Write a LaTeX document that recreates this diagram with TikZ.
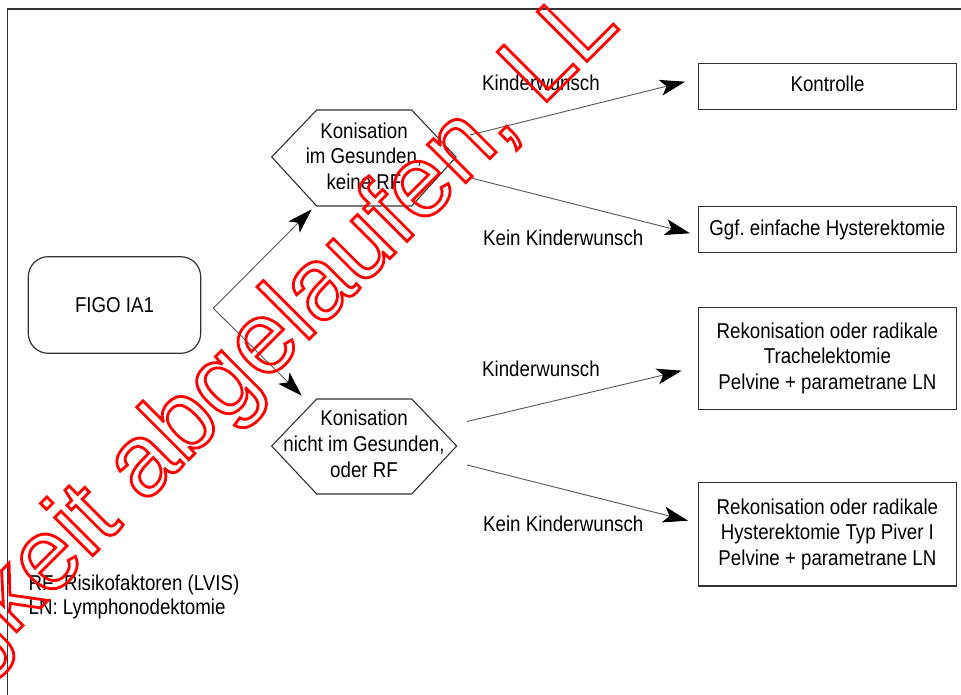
\documentclass[tikz,border=0pt]{standalone}
\usepackage{fontspec}
\setmainfont{Liberation Sans}[FakeStretch=0.87]
\newfontfamily\wmfont{Liberation Sans}
\usetikzlibrary{arrows.meta}
\frenchspacing
\newcommand{\txtsize}{\fontsize{21.5}{25.8}\selectfont}
\newcommand{\outlinetext}[1]{\special{pdf:literal direct 1 Tr 2.8 w}#1\special{pdf:literal direct 0 Tr}}
\definecolor{edgecol}{HTML}{333333}
\definecolor{arrcol}{HTML}{555555}
\tikzset{
  frameline/.style={draw=edgecol, line width=1.3pt},
  rbox/.style={draw=edgecol, line width=1.3pt, minimum width=258.4pt, inner sep=0pt, align=center, font=\txtsize},
  startbox/.style={draw=edgecol, line width=1.2pt, rounded corners=20pt, minimum width=172.4pt, minimum height=96.6pt, inner sep=0pt, font=\txtsize},
  hexline/.style={draw=edgecol, line width=1.1pt},
  hextext/.style={inner sep=0pt, align=center, font=\txtsize},
  lbl/.style={inner sep=0pt, font=\txtsize, anchor=base west},
  arr/.style={draw=arrcol, line width=0.9pt, -{Stealth[length=25pt,width=16pt,inset=6pt,color=black]}},
  wmark/.style={inner sep=0pt, text=red, anchor=base east, rotate=45, font=\wmfont\fontsize{102}{102}\selectfont}
}
\begin{document}
\begin{tikzpicture}[x=1pt,y=-1pt]
\clip (0,0) rectangle (961,695);
\fill[white] (0,0) rectangle (961,695);
\draw[frameline] (7.3,9) rectangle (990,720);

% start node
\node[startbox] (figo) at (114.5,305) {FIGO IA1};

% decision hexagons
\node[hextext] (h1) at (364,156.3) {Konisation\\im Gesunden,\\keine RF};
\draw[hexline] (271.7,157) -- (316.7,110) -- (411.7,110) -- (456,157) -- (411.7,206) -- (316.7,206) -- cycle;
\node[hextext] (h2) at (364,443.9) {Konisation\\nicht im Gesunden,\\oder RF};
\draw[hexline] (271.7,446) -- (316.7,399) -- (411.7,399) -- (456.7,446) -- (411.7,494) -- (316.7,494) -- cycle;

% result boxes
\node[rbox, minimum height=46pt, text depth=4.4pt] (kon) at (827.5,86.3) {Kontrolle};
\node[rbox, minimum height=46pt] (hyst) at (827.4,229.7) {Ggf. einfache Hysterektomie};
\node[rbox, minimum height=102pt] (rek1) at (827.4,358.3) {Rekonisation oder radikale\\Trachelektomie\\Pelvine + parametrane LN};
\node[rbox, minimum height=103.3pt] (rek2) at (827.4,534.3) {Rekonisation oder radikale\\Hysterektomie Typ Piver I\\Pelvine + parametrane LN};

% edge labels
\node[lbl] (l1) at (482,90.5) {Kinderwunsch};
\node[lbl] (l2) at (483,245) {Kein Kinderwunsch};
\node[lbl] (l3) at (482,376.7) {Kinderwunsch};
\node[lbl] (l4) at (483,531) {Kein Kinderwunsch};

% footnotes
\node[lbl] (n1) at (28.5,590) {RF: Risikofaktoren (LVIS)};
\node[lbl] (n2) at (28.5,614) {LN: Lymphonodektomie};

% connector end points
\coordinate (fork) at (213.3,308.3);
\coordinate (t1) at (311.7,209.3);
\coordinate (t2) at (301.7,395.7);
\coordinate (s1) at (470,135);
\coordinate (e1) at (685,81.7);
\coordinate (s2) at (471,178);
\coordinate (e2) at (690,233.3);
\coordinate (s3) at (467,421.5);
\coordinate (e3) at (681.7,370.7);
\coordinate (s4) at (467,465);
\coordinate (e4) at (688,520.7);

\draw[arr] (fork) -- (t1);
\draw[arr] (fork) -- (t2);
\draw[arr] (s1) -- (e1);
\draw[arr] (s2) -- (e2);
\draw[arr] (s3) -- (e3);
\draw[arr] (s4) -- (e4);

% watermark
\node[wmark] (wm) at (621.5,26.9) {\outlinetext{Gültigkeit abgelaufen, LL}};
\end{tikzpicture}
\end{document}
